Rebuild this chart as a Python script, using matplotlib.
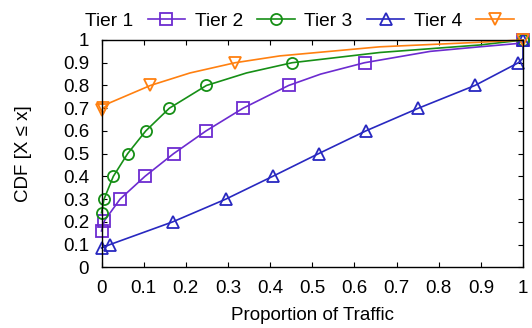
import matplotlib
matplotlib.use("Agg")
import matplotlib.pyplot as plt

plt.rcParams['font.family'] = ['Liberation Sans', 'DejaVu Sans']
plt.rcParams['font.size'] = 13.5

labels = ["Tier 1", "Tier 2", "Tier 3", "Tier 4"]
colors = ["#6c2bd0", "#168f16", "#2828c0", "#ff8010"]
markers = ["s", "o", "^", "v"]

tier1_x = [0.0, 0.007, 0.044, 0.103, 0.171, 0.248, 0.336, 0.444, 0.52, 0.624, 0.78, 0.897, 0.99, 1.0]
tier1_y = [0.16, 0.205, 0.30, 0.40, 0.50, 0.60, 0.70, 0.80, 0.85, 0.90, 0.95, 0.97, 0.985, 1.0]
tier1_marks = [0, 1, 2, 3, 4, 5, 6, 7, 9, 13]

tier2_x = [0.0, 0.006, 0.028, 0.062, 0.105, 0.161, 0.249, 0.344, 0.452, 0.66, 0.897, 1.0]
tier2_y = [0.24, 0.30, 0.40, 0.50, 0.60, 0.70, 0.80, 0.855, 0.90, 0.945, 0.978, 1.0]
tier2_marks = [0, 1, 2, 3, 4, 5, 6, 8, 11]

tier3_x = [0.0, 0.02, 0.169, 0.295, 0.406, 0.515, 0.627, 0.752, 0.886, 0.989, 1.0, 1.0]
tier3_y = [0.085, 0.10, 0.20, 0.30, 0.40, 0.50, 0.60, 0.70, 0.80, 0.90, 0.92, 1.0]
tier3_marks = [0, 1, 2, 3, 4, 5, 6, 7, 8, 9, 11]

tier4_x = [0.0, 0.004, 0.02, 0.116, 0.21, 0.317, 0.423, 0.66, 0.897, 1.0]
tier4_y = [0.69, 0.70, 0.724, 0.80, 0.855, 0.90, 0.93, 0.97, 0.99, 1.0]
tier4_marks = [0, 1, 3, 5, 9]

ticks = [0, 0.1, 0.2, 0.3, 0.4, 0.5, 0.6, 0.7, 0.8, 0.9, 1]
tick_labels = ["0", "0.1", "0.2", "0.3", "0.4", "0.5", "0.6", "0.7", "0.8", "0.9", "1"]

series = [(tier1_x, tier1_y, tier1_marks), (tier2_x, tier2_y, tier2_marks),
          (tier3_x, tier3_y, tier3_marks), (tier4_x, tier4_y, tier4_marks)]

fig = plt.figure(figsize=(5.32, 3.28), dpi=100)
ax = fig.add_axes([101.5 / 532, 60.7 / 328, 421.5 / 532, 227.3 / 328])

handles = []
for (xs, ys, mk), lab, c, m in zip(series, labels, colors, markers):
    ms = 8.0 if m in ("s", "o") else 9.0
    h, = ax.plot(xs, ys, color=c, lw=1.2, marker=m, markevery=mk, ms=ms,
                 mfc="none", mec=c, mew=1.3, clip_on=False, label=lab)
    handles.append(h)

ax.set_xlim(0, 1)
ax.set_ylim(0, 1)
ax.set_xticks(ticks)
ax.set_xticklabels(tick_labels)
ax.set_yticks(ticks)
ax.set_yticklabels(tick_labels)
ax.tick_params(direction="in", length=3.6, width=0.8, top=True, right=True,
               labelsize=13.5)
ax.tick_params(axis="x", pad=9)
ax.tick_params(axis="y", pad=9)
for s in ax.spines.values():
    s.set_linewidth(1.0)

ax.set_xlabel("Proportion of Traffic", fontsize=13.5, labelpad=7)
ax.set_ylabel("CDF [X ≤ x]", fontsize=13.5, labelpad=22)

fig.legend(handles=handles, labels=labels, ncol=4, markerfirst=False,
           frameon=False, loc="center", bbox_to_anchor=(299.5 / 532, 1 - 21.4 / 328),
           handlelength=1.95, handletextpad=0.75, columnspacing=0.5,
           fontsize=13.8, borderpad=0, borderaxespad=0)

fig.savefig("out.png", dpi=100)
